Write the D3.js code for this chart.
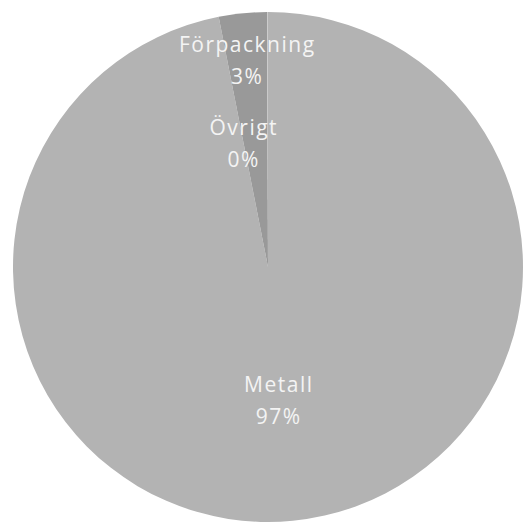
<!DOCTYPE html>
<html>
<head>
<meta charset="utf-8">
<script src="https://cdn.jsdelivr.net/npm/d3@7"></script>
<style>
  html, body { margin: 0; padding: 0; background: #ffffff; }
  svg { display: block; }
  text { font-family: "Open Sans", "DejaVu Sans", sans-serif; }
</style>
</head>
<body>
<svg id="chart" width="524" height="524"></svg>
<script>
// Data
const categories = ["Metall", "Förpackning", "Övrigt"];
const values = [96.9, 3.05, 0.05];
const percentLabels = ["97%", "3%", "0%"];

// Styling
const colors = ["#b3b3b3", "#999999", "#c4c4c4"];
const labelRadiusFactor = [0.516, 0.824, 0.494];
const labelShiftX = [-2, 0, -24];

const W = 524, H = 524;
const cx = 268, cy = 267, R = 255;

const svg = d3.select("#chart");
const g = svg.append("g").attr("transform", `translate(${cx},${cy})`);

const data = categories.map((c, i) => ({ name: c, value: values[i], pct: percentLabels[i], i }));

const pie = d3.pie().value(d => d.value).sort(null);
const arcs = pie(data);

const arc = d3.arc().innerRadius(0).outerRadius(R);

g.selectAll("path.slice")
  .data(arcs)
  .join("path")
  .attr("class", "slice")
  .attr("d", arc)
  .attr("fill", d => colors[d.data.i]);

const labels = g.selectAll("g.lbl")
  .data(arcs)
  .join("g")
  .attr("class", "lbl")
  .attr("transform", d => {
    const r = R * labelRadiusFactor[d.data.i];
    const la = d3.arc().innerRadius(r).outerRadius(r);
    const [x, y] = la.centroid(d);
    return `translate(${x + labelShiftX[d.data.i]},${y})`;
  });

labels.append("text")
  .attr("text-anchor", "middle")
  .attr("y", -6)
  .attr("fill", "#f4f4f4")
  .attr("font-size", 21)
  .attr("letter-spacing", 1.5)
  .text(d => d.data.name);

labels.append("text")
  .attr("text-anchor", "middle")
  .attr("y", 26)
  .attr("fill", "#f4f4f4")
  .attr("font-size", 21)
  .attr("letter-spacing", 1.5)
  .text(d => d.data.pct);
</script>
</body>
</html>
